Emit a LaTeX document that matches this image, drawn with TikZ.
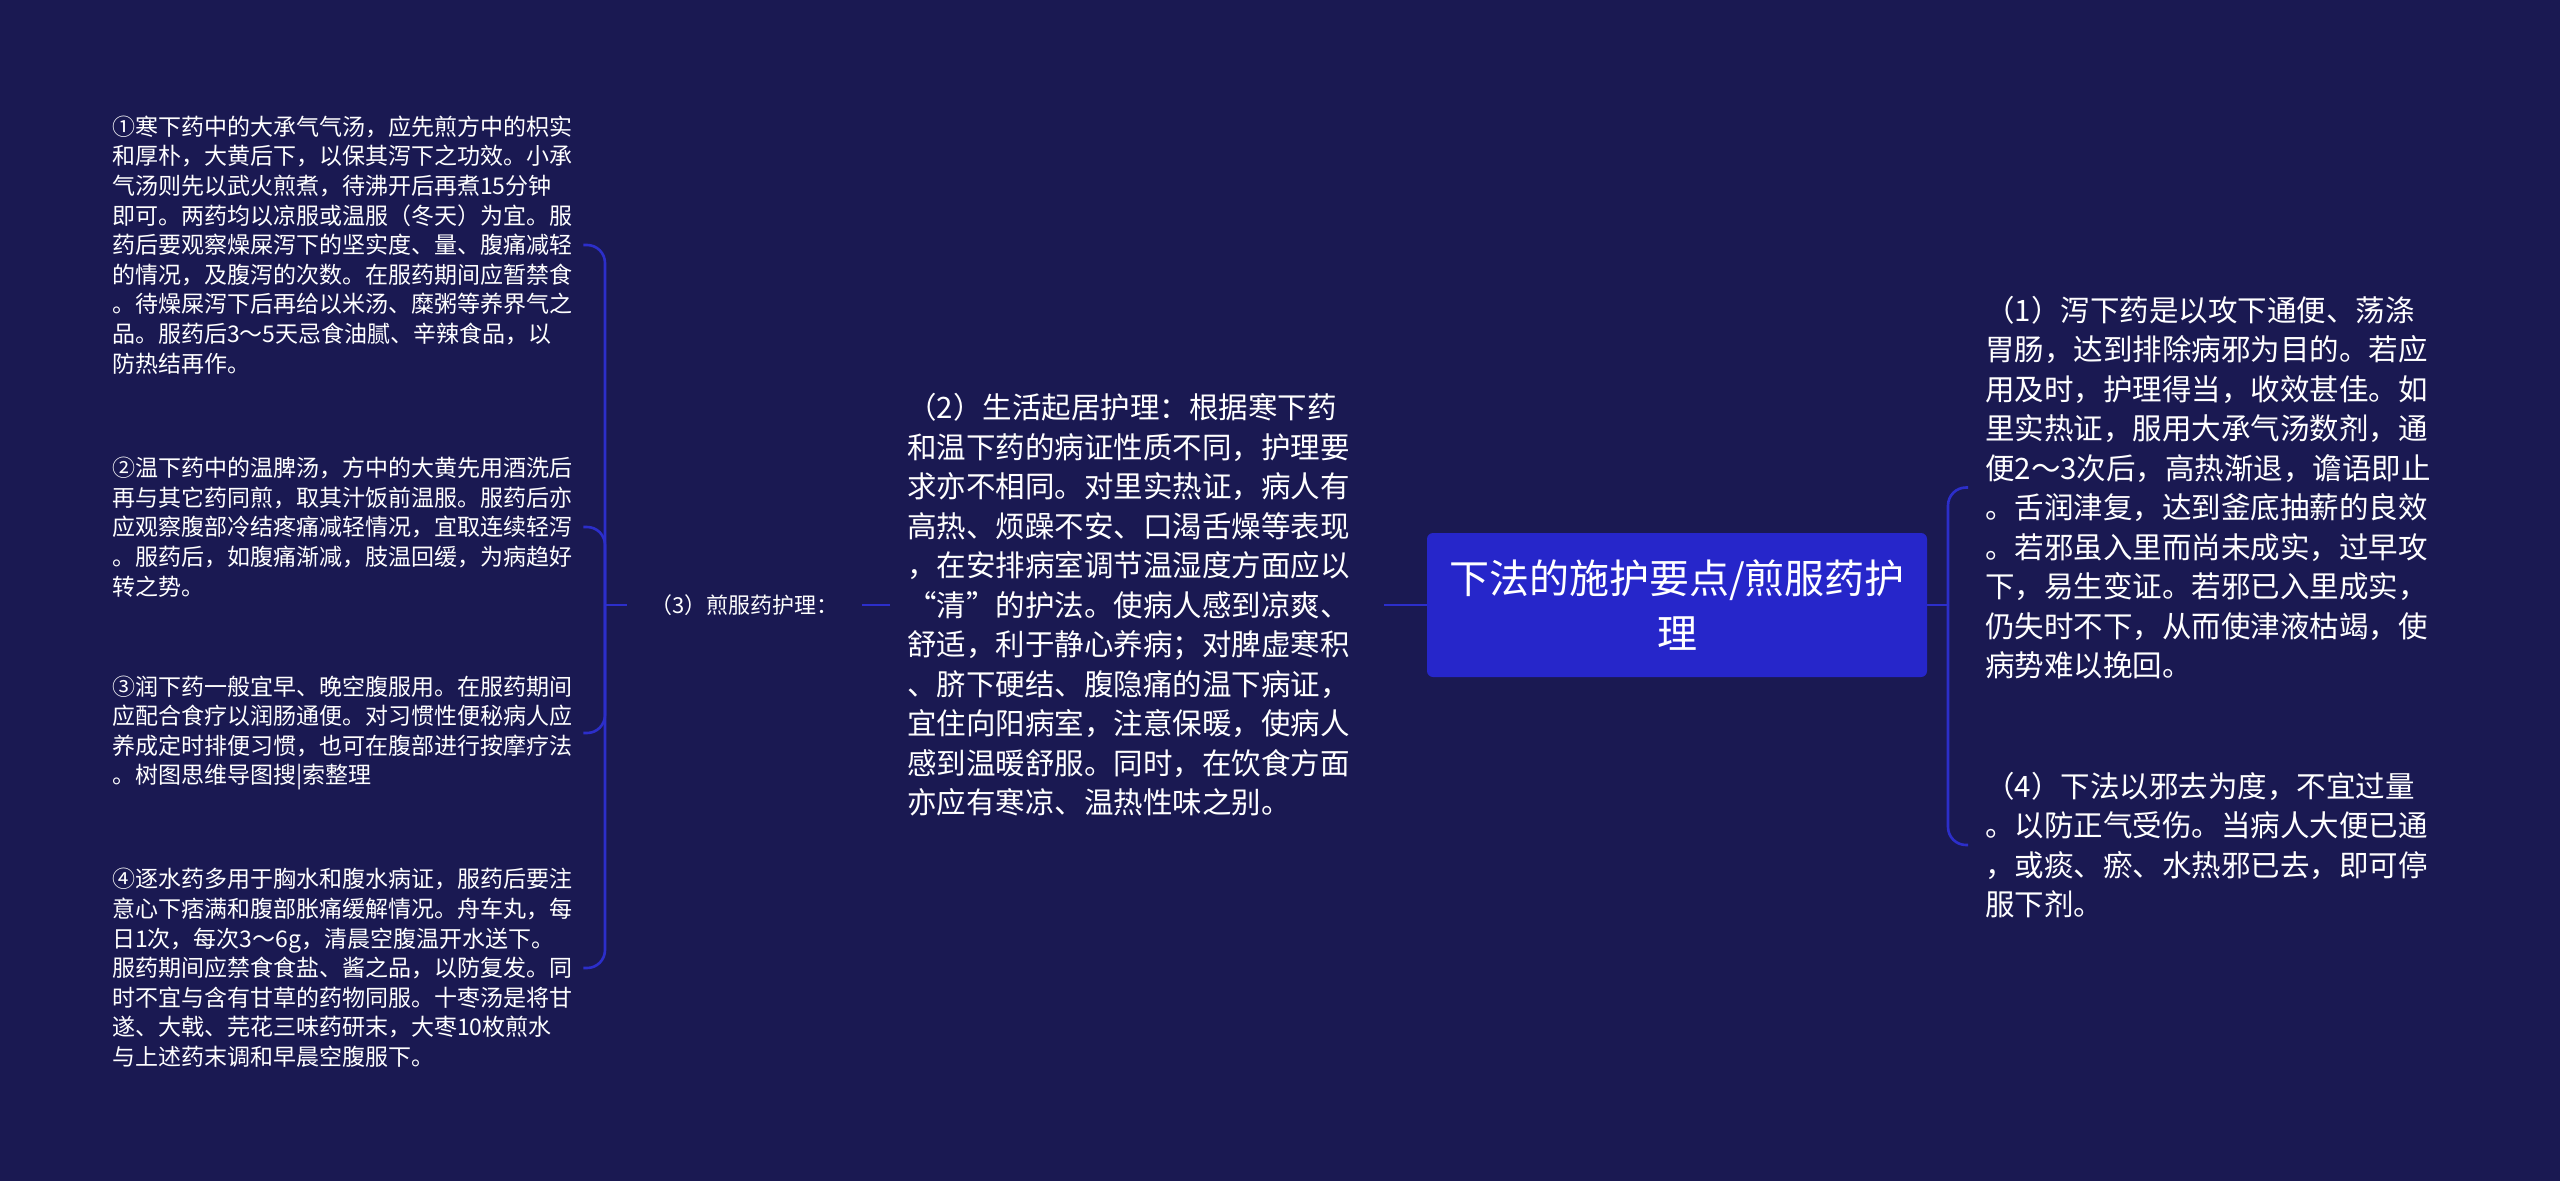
\documentclass[tikz,border=0pt]{standalone}
\usepackage{fontspec}
\setmainfont{Noto Sans CJK SC}
\usetikzlibrary{positioning}
\definecolor{bgnavy}{RGB}{26,25,82}
\definecolor{linkblue}{RGB}{44,46,202}
\definecolor{rootblue}{RGB}{38,38,202}
\tikzset{
  link/.style={draw=linkblue,line width=2.6pt},
  bracelink/.style={link,rounded corners=18pt},
  leaf/.style={text=white,align=left,anchor=west,inner xsep=11pt,inner ysep=0pt,
    text width=460pt,font={\fontsize{23pt}{29.6pt}\selectfont}},
  bigleaf/.style={text=white,align=left,anchor=west,inner xsep=17pt,inner ysep=0pt,
    text width=460pt,font={\fontsize{29.5pt}{39.5pt}\selectfont}},
}

\begin{document}
\begin{tikzpicture}[x=1pt,y=-1pt]
\fill[bgnavy] (0,0) rectangle (2560,1181);

% centre
\node[fill=rootblue,rounded corners=6pt,minimum width=500pt,minimum height=144pt,
  text=white,align=center,font={\fontsize{40pt}{55pt}\selectfont}] (R) at (1677,605)
  {下法的施护要点/煎服药护\\理};

% right side
\node[bigleaf] (P1) at (1968,487.5) {（1）泻下药是以攻下通便、荡涤\\
胃肠，达到排除病邪为目的。若应\\
用及时，护理得当，收效甚佳。如\\
里实热证，服用大承气汤数剂，通\\
便2～3次后，高热渐退，谵语即止\\
。舌润津复，达到釜底抽薪的良效\\
。若邪虽入里而尚未成实，过早攻\\
下，易生变证。若邪已入里成实，\\
仍失时不下，从而使津液枯竭，使\\
病势难以挽回。};
\node[bigleaf] (P4) at (1968,845) {（4）下法以邪去为度，不宜过量\\
。以防正气受伤。当病人大便已通\\
，或痰、瘀、水热邪已去，即可停\\
服下剂。};

% left side
\node[bigleaf] (P2) at (890,605) {（2）生活起居护理：根据寒下药\\
和温下药的病证性质不同，护理要\\
求亦不相同。对里实热证，病人有\\
高热、烦躁不安、口渴舌燥等表现\\
，在安排病室调节温湿度方面应以\\
“清”的护法。使病人感到凉爽、\\
舒适，利于静心养病；对脾虚寒积\\
、脐下硬结、腹隐痛的温下病证，\\
宜住向阳病室，注意保暖，使病人\\
感到温暖舒服。同时，在饮食方面\\
亦应有寒凉、温热性味之别。};
\node[text=white,anchor=west,inner xsep=23pt,font={\fontsize{22pt}{26pt}\selectfont}]
  (P3) at (627,605) {（3）煎服药护理：};

\node[leaf] (M1) at (101,245) {①寒下药中的大承气气汤，应先煎方中的枳实\\
和厚朴，大黄后下，以保其泻下之功效。小承\\
气汤则先以武火煎煮，待沸开后再煮15分钟\\
即可。两药均以凉服或温服（冬天）为宜。服\\
药后要观察燥屎泻下的坚实度、量、腹痛减轻\\
的情况，及腹泻的次数。在服药期间应暂禁食\\
。待燥屎泻下后再给以米汤、糜粥等养界气之\\
品。服药后3～5天忌食油腻、辛辣食品，以\\
防热结再作。};
\node[leaf] (M2) at (101,527) {②温下药中的温脾汤，方中的大黄先用酒洗后\\
再与其它药同煎，取其汁饭前温服。服药后亦\\
应观察腹部冷结疼痛减轻情况，宜取连续轻泻\\
。服药后，如腹痛渐减，肢温回缓，为病趋好\\
转之势。};
\node[leaf] (M3) at (101,733) {③润下药一般宜早、晚空腹服用。在服药期间\\
应配合食疗以润肠通便。对习惯性便秘病人应\\
养成定时排便习惯，也可在腹部进行按摩疗法\\
。树图思维导图搜|索整理};
\node[leaf] (M4) at (101,968) {④逐水药多用于胸水和腹水病证，服药后要注\\
意心下痞满和腹部胀痛缓解情况。舟车丸，每\\
日1次，每次3～6g，清晨空腹温开水送下。\\
服药期间应禁食食盐、酱之品，以防复发。同\\
时不宜与含有甘草的药物同服。十枣汤是将甘\\
遂、大戟、芫花三味药研末，大枣10枚煎水\\
与上述药末调和早晨空腹服下。};

% connectors
\coordinate (JR) at (1948,605);
\coordinate (JL) at (605,605);
\draw[link] (R.east) -- (JR);
\draw[bracelink] (JR) |- (P1.west);
\draw[bracelink] (JR) |- (P4.west);
\draw[link] (R.west) -- (P2.east);
\draw[link] (P2.west) -- (P3.east);
\draw[link] (P3.west) -- (JL);
\foreach \m in {M1,M2,M3,M4}
  \draw[bracelink] (JL) |- (\m.east);

\end{tikzpicture}
\end{document}
